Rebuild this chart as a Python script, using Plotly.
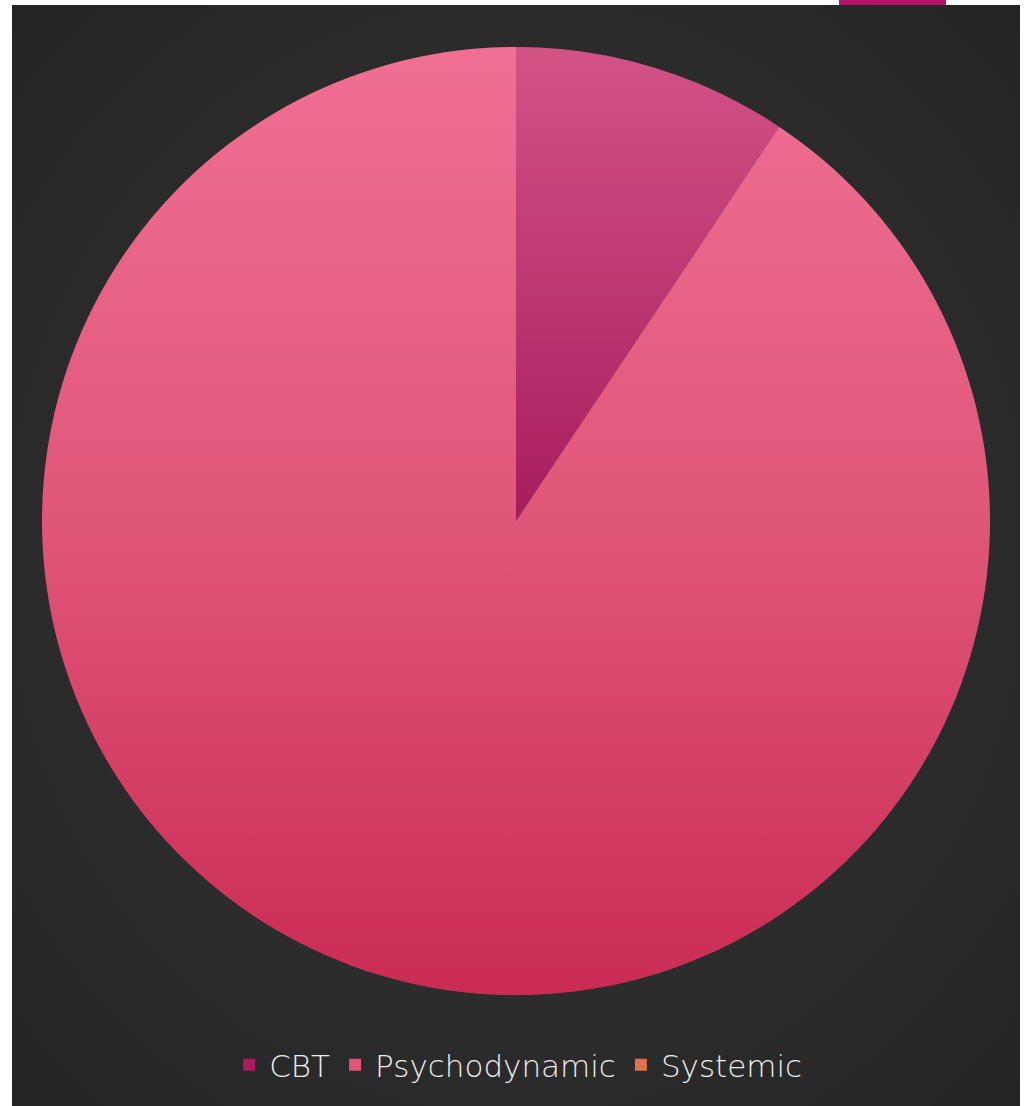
import base64
import plotly.graph_objects as go

# ---- data ----
categories = ["CBT", "Psychodynamic", "Systemic"]
values = [3, 29, 0]
colors = ["#a81c5e", "#e05679", "#e0704e"]

W, H = 1027, 1106

def px_x(x):
    return x / W

def px_y(y):
    return 1 - y / H

def svg_uri(svg):
    return "data:image/svg+xml;base64," + base64.b64encode(svg.encode()).decode()

bg_svg = (
    '<svg xmlns="http://www.w3.org/2000/svg" width="1008" height="1101" viewBox="0 0 1008 1101" preserveAspectRatio="none">'
    '<defs><radialGradient id="g" cx="50%" cy="50%" r="70%">'
    '<stop offset="0" stop-color="#383838"/><stop offset="1" stop-color="#242424"/>'
    '</radialGradient></defs><rect width="1008" height="1101" fill="url(#g)"/></svg>'
)

shade_svg = (
    '<svg xmlns="http://www.w3.org/2000/svg" width="948" height="948" viewBox="0 0 948 948" preserveAspectRatio="none">'
    '<defs><linearGradient id="s" x1="0" y1="0" x2="0" y2="1">'
    '<stop offset="0" stop-color="#ff8aae" stop-opacity="0.5"/>'
    '<stop offset="0.5" stop-color="#ff8aae" stop-opacity="0"/>'
    '<stop offset="0.5" stop-color="#b40030" stop-opacity="0"/>'
    '<stop offset="1" stop-color="#b40030" stop-opacity="0.5"/>'
    '</linearGradient></defs><circle cx="474" cy="474" r="474" fill="url(#s)"/></svg>'
)

cx, cy, r = 516, 521, 474

fig = go.Figure(
    go.Pie(
        labels=categories,
        values=values,
        sort=False,
        direction="clockwise",
        rotation=0,
        marker=dict(colors=colors, line=dict(width=0)),
        textinfo="none",
        hoverinfo="label+value+percent",
        domain=dict(x=[px_x(cx - r), px_x(cx + r)], y=[px_y(cy + r), px_y(cy - r)]),
    )
)

fig.update_layout(
    width=W,
    height=H,
    margin=dict(l=0, r=0, t=0, b=0),
    paper_bgcolor="#ffffff",
    plot_bgcolor="rgba(0,0,0,0)",
    showlegend=True,
    legend=dict(
        orientation="h",
        x=0.505,
        xanchor="center",
        y=px_y(1065),
        yanchor="middle",
        font=dict(family="DejaVu Sans", size=31, color="#ececec", weight=300),
        bgcolor="rgba(0,0,0,0)",
        itemclick=False,
    ),
    images=[
        dict(
            source=svg_uri(bg_svg),
            xref="paper", yref="paper",
            x=px_x(12), y=px_y(5),
            sizex=px_x(1020) - px_x(12), sizey=px_y(5) - px_y(1106),
            xanchor="left", yanchor="top",
            sizing="stretch", layer="below",
        ),
        dict(
            source=svg_uri(shade_svg),
            xref="paper", yref="paper",
            x=px_x(cx - r), y=px_y(cy - r),
            sizex=px_x(2 * r), sizey=2 * r / H,
            xanchor="left", yanchor="top",
            sizing="stretch", layer="above",
        ),
    ],
    shapes=[
        dict(
            type="rect", xref="paper", yref="paper",
            x0=px_x(839), x1=px_x(946), y0=px_y(5), y1=1,
            fillcolor="#b5136b", line=dict(width=0), layer="above",
        )
    ],
)

fig.write_html("out.html")
